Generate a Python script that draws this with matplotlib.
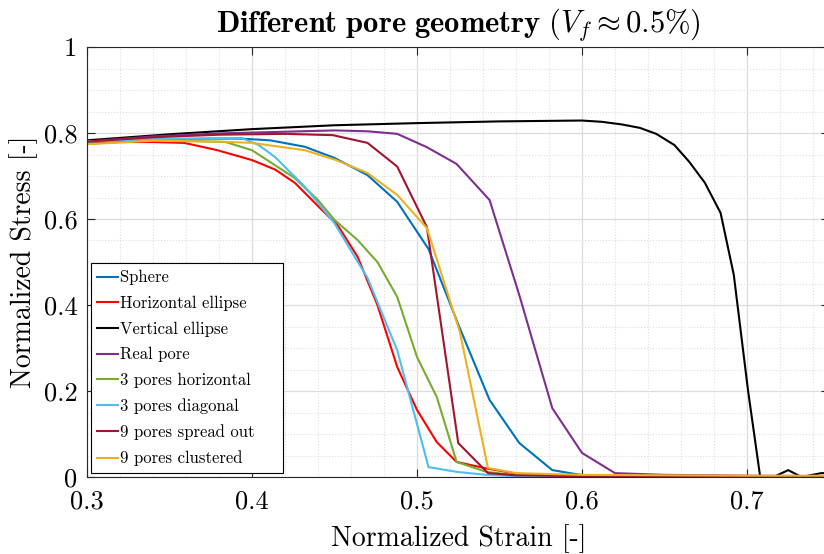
import matplotlib
matplotlib.use("Agg")
import matplotlib.pyplot as plt
from matplotlib.ticker import MultipleLocator

plt.rcParams['font.family'] = 'cmr10'
plt.rcParams['mathtext.fontset'] = 'cm'
plt.rcParams['axes.formatter.use_mathtext'] = True

# data
sphere_x = [0.300, 0.319, 0.337, 0.356, 0.374, 0.393, 0.411, 0.432, 0.450, 0.470, 0.488, 0.507,
            0.525, 0.544, 0.562, 0.582, 0.599, 0.618, 0.636, 0.655, 0.673, 0.692, 0.710, 0.729, 0.747]
sphere_y = [0.777, 0.782, 0.785, 0.786, 0.787, 0.787, 0.783, 0.768, 0.742, 0.702, 0.640, 0.530,
            0.355, 0.179, 0.079, 0.016, 0.005, 0.002, 0.001, 0.001, 0.001, 0.001, 0.001, 0.001, 0.001]

hell_x = [0.300, 0.320, 0.340, 0.359, 0.379, 0.400, 0.414, 0.426, 0.440, 0.452, 0.464, 0.476,
          0.488, 0.500, 0.512, 0.524, 0.542, 0.560, 0.580, 0.600, 0.650, 0.700, 0.750]
hell_y = [0.775, 0.779, 0.779, 0.777, 0.760, 0.737, 0.715, 0.684, 0.630, 0.585, 0.512, 0.400,
          0.256, 0.156, 0.081, 0.035, 0.020, 0.008, 0.003, 0.002, 0.001, 0.001, 0.001]

vell_x = [0.300, 0.350, 0.400, 0.450, 0.500, 0.550, 0.600, 0.612, 0.624, 0.635, 0.645, 0.656,
          0.665, 0.6745, 0.684, 0.692, 0.7006, 0.708, 0.716, 0.725, 0.733, 0.745, 0.755]
vell_y = [0.783, 0.797, 0.809, 0.818, 0.823, 0.827, 0.829, 0.826, 0.820, 0.812, 0.798, 0.772,
          0.733, 0.684, 0.614, 0.470, 0.202, 0.000, 0.000, 0.016, 0.000, 0.009, 0.009]

real_x = [0.300, 0.340, 0.380, 0.420, 0.450, 0.470, 0.488, 0.506, 0.524, 0.544, 0.562, 0.582,
          0.600, 0.620, 0.650, 0.700, 0.750]
real_y = [0.780, 0.792, 0.799, 0.803, 0.806, 0.804, 0.798, 0.767, 0.728, 0.644, 0.423, 0.160,
          0.056, 0.009, 0.005, 0.003, 0.002]

h3_x = [0.300, 0.340, 0.384, 0.400, 0.412, 0.426, 0.440, 0.450, 0.464, 0.476, 0.488, 0.500,
        0.512, 0.524, 0.542, 0.560, 0.600, 0.650, 0.700, 0.750]
h3_y = [0.781, 0.784, 0.779, 0.760, 0.730, 0.695, 0.644, 0.598, 0.551, 0.500, 0.419, 0.279,
        0.186, 0.035, 0.012, 0.004, 0.002, 0.001, 0.001, 0.001]

d3_x = [0.300, 0.340, 0.394, 0.404, 0.414, 0.432, 0.442, 0.450, 0.470, 0.488, 0.507, 0.524,
        0.542, 0.560, 0.600, 0.650, 0.700, 0.750]
d3_y = [0.780, 0.786, 0.788, 0.772, 0.744, 0.675, 0.628, 0.590, 0.463, 0.295, 0.023, 0.012,
        0.005, 0.002, 0.001, 0.001, 0.001, 0.001]

s9_x = [0.300, 0.340, 0.380, 0.420, 0.449, 0.470, 0.488, 0.506, 0.525, 0.543, 0.560, 0.600,
        0.650, 0.700, 0.750]
s9_y = [0.780, 0.790, 0.796, 0.798, 0.795, 0.777, 0.722, 0.581, 0.079, 0.009, 0.004, 0.002,
        0.001, 0.001, 0.001]

c9_x = [0.300, 0.340, 0.380, 0.400, 0.432, 0.451, 0.470, 0.488, 0.506, 0.526, 0.543, 0.560,
        0.600, 0.650, 0.700, 0.750]
c9_y = [0.774, 0.782, 0.780, 0.777, 0.760, 0.737, 0.707, 0.656, 0.579, 0.337, 0.021, 0.009,
        0.005, 0.004, 0.003, 0.003]

labels = ['Sphere', 'Horizontal ellipse', 'Vertical ellipse', 'Real pore',
          '3 pores horizontal', '3 pores diagonal', '9 pores spread out', '9 pores clustered']
colors = ['#0072BD', '#FF0000', '#000000', '#7E2F8E', '#77AC30', '#4DBEEE', '#A2142F', '#EDB120']

xticks = [0.3, 0.4, 0.5, 0.6, 0.7]
xticklabels = ['0.3', '0.4', '0.5', '0.6', '0.7']
yticks = [0, 0.2, 0.4, 0.6, 0.8, 1]
yticklabels = ['0', '0.2', '0.4', '0.6', '0.8', '1']

series = [(sphere_x, sphere_y), (hell_x, hell_y), (vell_x, vell_y), (real_x, real_y),
          (h3_x, h3_y), (d3_x, d3_y), (s9_x, s9_y), (c9_x, c9_y)]

fig = plt.figure(figsize=(8.24, 5.54), dpi=100)
ax = fig.add_axes([87 / 824, 77 / 554, 742.5 / 824, 430 / 554])

for (x, y), lab, c in zip(series, labels, colors):
    # trailing no-break spaces widen the legend box on the right like MATLAB does
    ax.plot(x, y, color=c, lw=1.5, label=lab + '\u00a0' * 4)

ax.set_xlim(0.3, 0.75)
ax.set_ylim(0, 1)
ax.set_xticks(xticks)
ax.set_xticklabels(xticklabels)
ax.set_yticks(yticks)
ax.set_yticklabels(yticklabels)
ax.xaxis.set_minor_locator(MultipleLocator(0.02))
ax.yaxis.set_minor_locator(MultipleLocator(0.05))

ax.grid(True, which='major', color='#dcdcdc', lw=0.9, ls='-')
ax.grid(True, which='minor', color='#dedede', lw=0.8, ls=':')
ax.set_axisbelow(True)
ax.tick_params(which='major', direction='in', length=6, width=0.8, top=True, right=True,
               labelsize=19, colors='#262626', labelcolor='black', pad=6)
ax.tick_params(axis='x', which='major', pad=9)
ax.tick_params(axis='y', which='major', pad=7)
ax.tick_params(which='minor', length=0, top=True, right=True)
for s in ax.spines.values():
    s.set_color('#262626')
    s.set_linewidth(0.8)

ax.set_xlabel('Normalized Strain [-]', fontsize=20, labelpad=8)
ax.set_ylabel('Normalized Stress [-]', fontsize=20, labelpad=4)
ax.set_title(r'$\mathbf{Different\ pore\ geometry\ (}V_f \approx \mathbf{0.5\%)}$',
             fontsize=22, pad=11)

leg = ax.legend(loc='lower left', bbox_to_anchor=(0.005, 0.009), borderaxespad=0,
                fontsize=12, fancybox=False, edgecolor='black', framealpha=1,
                handlelength=1.25, handletextpad=0.1, labelspacing=0.62, borderpad=0.4)
leg.get_frame().set_linewidth(0.8)

fig.savefig('out.png', dpi=100)
